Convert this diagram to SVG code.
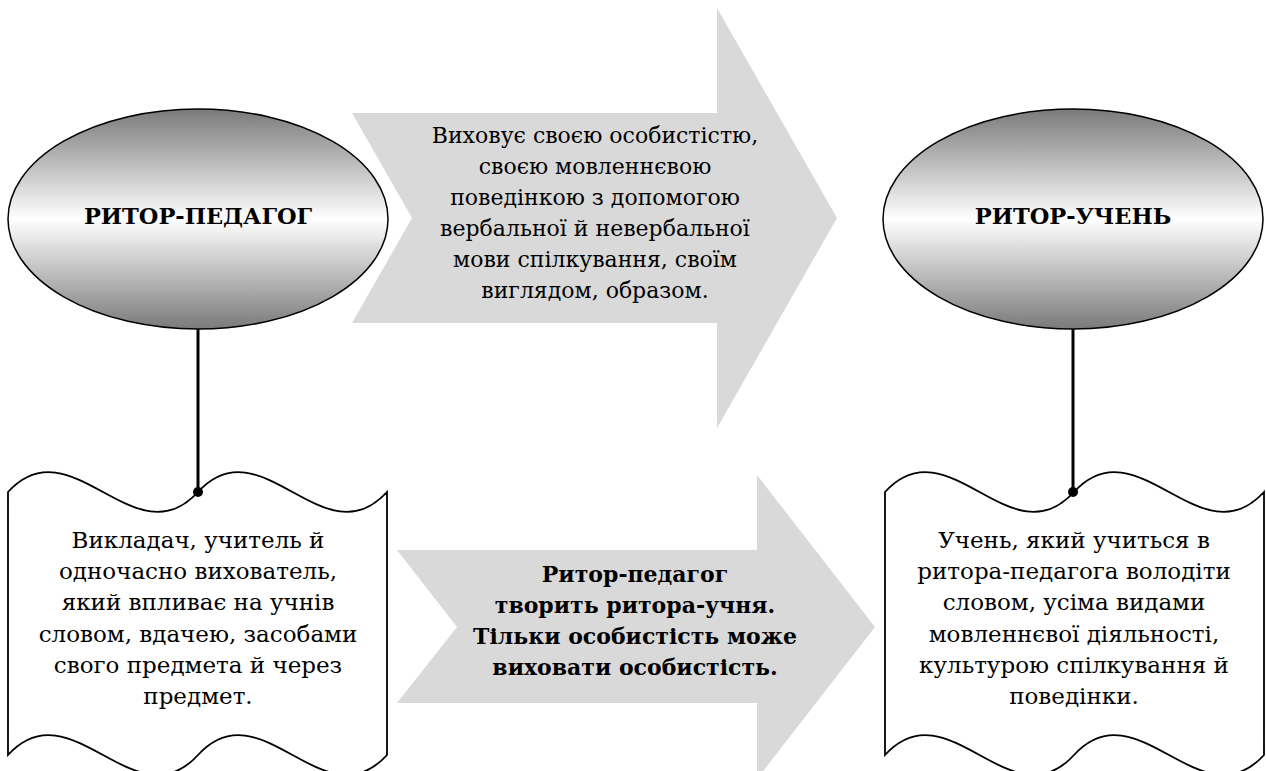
<svg xmlns="http://www.w3.org/2000/svg" width="1266" height="771" viewBox="0 0 1266 771">
<defs>
<linearGradient id="eg" x1="0" y1="0" x2="0" y2="1">
<stop offset="0" stop-color="#7a7a7a"/>
<stop offset="0.5" stop-color="#ffffff"/>
<stop offset="1" stop-color="#7a7a7a"/>
</linearGradient>
<style>
.ell{fill:url(#eg);stroke:#000;stroke-width:1.5}
.arr{fill:#d9d9d9;stroke:none}
.box{fill:#fff;stroke:#000;stroke-width:1.8}
.t{font-family:"DejaVu Serif","Liberation Serif",serif;font-size:23px;fill:#000;text-anchor:middle}
.ta{font-family:"DejaVu Serif","Liberation Serif",serif;font-size:22px;fill:#000;text-anchor:middle}
.b{font-family:"DejaVu Serif","Liberation Serif",serif;font-size:22px;font-weight:bold;fill:#000;text-anchor:middle}
.h{font-family:"DejaVu Serif","Liberation Serif",serif;font-size:22.5px;font-weight:bold;fill:#000;text-anchor:middle}
.ln{stroke:#000;stroke-width:3;fill:none}
</style>
</defs>
<rect width="1266" height="771" fill="#fff"/>
<g id="arrow-top">
<polygon class="arr" points="352,113 717,113 717,8 837,218 717,428 717,323 352,323 412,218"/>
<text class="ta" x="595" y="143">Виховує своєю особистістю,</text>
<text class="ta" x="595" y="174">своєю мовленнєвою</text>
<text class="ta" x="595" y="205">поведінкою з допомогою</text>
<text class="ta" x="595" y="236">вербальної й невербальної</text>
<text class="ta" x="595" y="267">мови спілкування, своїм</text>
<text class="ta" x="595" y="298">виглядом, образом.</text>
</g>
<g id="arrow-bottom">
<polygon class="arr" points="397,550 757,550 757,475 875,627 757,779 757,703 397,703 457,627"/>
<text class="b" x="635" y="582">Ритор-педагог</text>
<text class="b" x="635" y="613">творить ритора-учня.</text>
<text class="b" x="635" y="644">Тільки особистість може</text>
<text class="b" x="635" y="675">виховати особистість.</text>
</g>
<g id="node-teacher">
<ellipse class="ell" cx="198" cy="219" rx="190" ry="110"/>
<text class="h" x="198" y="224">РИТОР-ПЕДАГОГ</text>
</g>
<g id="node-student">
<ellipse class="ell" cx="1073" cy="219" rx="190" ry="110"/>
<text class="h" x="1073" y="224">РИТОР-УЧЕНЬ</text>
</g>
<g id="box-teacher">
<path class="box" d="M8,492 C71,423 135,561 198,492 C261,423 324,561 387,492 L387,755 C324,824 261,686 198,755 C135,824 71,686 8,755 Z"/>
<text class="t" x="198" y="548">Викладач, учитель й</text>
<text class="t" x="198" y="579">одночасно вихователь,</text>
<text class="t" x="198" y="610">який впливає на учнів</text>
<text class="t" x="198" y="642">словом, вдачею, засобами</text>
<text class="t" x="198" y="673">свого предмета й через</text>
<text class="t" x="198" y="704">предмет.</text>
</g>
<g id="box-student">
<path class="box" d="M885,492 C948,423 1011,561 1074,492 C1137,423 1201,561 1264,492 L1264,755 C1201,824 1137,686 1074,755 C1011,824 948,686 885,755 Z"/>
<text class="t" x="1074" y="548">Учень, який учиться в</text>
<text class="t" x="1074" y="579">ритора-педагога володіти</text>
<text class="t" x="1074" y="610">словом, усіма видами</text>
<text class="t" x="1074" y="642">мовленнєвої діяльності,</text>
<text class="t" x="1074" y="673">культурою спілкування й</text>
<text class="t" x="1074" y="704">поведінки.</text>
</g>
<g id="connectors">
<line class="ln" x1="198" y1="329" x2="198" y2="492"/>
<circle cx="198" cy="492" r="5" fill="#000"/>
<line class="ln" x1="1073" y1="329" x2="1073" y2="492"/>
<circle cx="1073" cy="492" r="5" fill="#000"/>
</g>
</svg>
